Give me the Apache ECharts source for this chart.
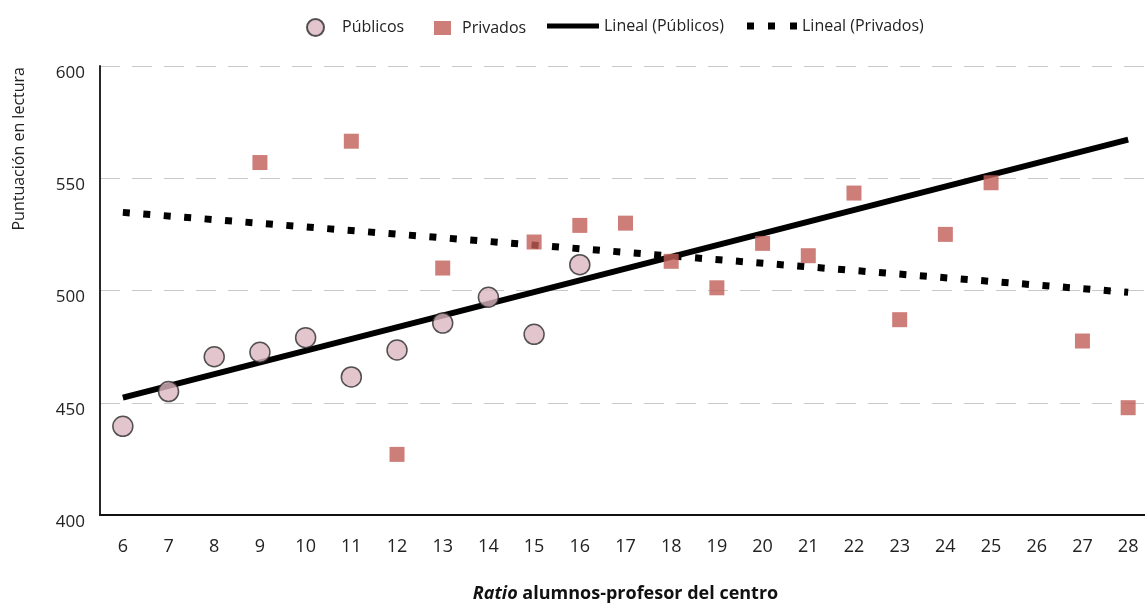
<!DOCTYPE html>
<html><head><meta charset="utf-8">
<script src="https://cdn.jsdelivr.net/npm/echarts@6/dist/echarts.min.js"></script>
<style>html,body{margin:0;padding:0;background:#fff}#c{width:1145px;height:603px}</style>
</head><body><div id="c"></div>
<script>
const categories = ['6','7','8','9','10','11','12','13','14','15','16','17','18','19','20','21','22','23','24','25','26','27','28'];
const publicosX = ['6','7','8','9','10','11','12','13','14','15','16'];
const publicosY = [439.5, 455, 470.5, 472.5, 479, 461.5, 473.5, 485.5, 497, 480.5, 511.5];
const privadosX = ['9','11','12','13','15','16','17','18','19','20','21','22','23','24','25','27','28'];
const privadosY = [557, 566.5, 427, 510, 521.6, 529, 530, 513, 501.2, 521, 515.5, 543.4, 487, 525, 548, 477.5, 447.8];
const trendPublicosX = ['6','28'];
const trendPublicosY = [452.3, 567.2];
const trendPrivadosX = ['6','28'];
const trendPrivadosY = [534.8, 499.2];
const yTicks = {min: 400, max: 600, interval: 50};

const FONT = "'Open Sans','DejaVu Sans',sans-serif";
const zip = (xs, ys) => xs.map((x, i) => [x, ys[i]]);

const chart = echarts.init(document.getElementById('c'), null, {renderer: 'canvas'});
const legendText = {fontFamily: FONT, fontSize: 16, color: '#222'};
chart.setOption({
  animation: false,
  backgroundColor: '#fff',
  grid: {left: 100, right: -6, top: 66, bottom: 88, containLabel: false, outerBoundsMode: 'none'},
  legend: [
    {data: [{name: 'Públicos', icon: 'circle'}], left: 301, top: 13, itemWidth: 43, itemHeight: 17, textStyle: legendText},
    {data: [{name: 'Privados', icon: 'path://M0,0h17v14h-17z M23,7L23,7'}], left: 429, top: 15, itemWidth: 23, itemHeight: 14, textStyle: legendText},
    {data: [{name: 'Lineal (Públicos)', icon: 'rect'}], left: 542, top: 13, itemWidth: 52, itemHeight: 5, textStyle: legendText},
    {data: [{name: 'Lineal (Privados)', icon: 'path://M0,0h7v7h-7z M21,0h7v7h-7z M43,0h7v7h-7z'}], left: 742, top: 13, itemWidth: 50, itemHeight: 7, textStyle: legendText}
  ],
  xAxis: {
    type: 'category',
    data: categories,
    boundaryGap: true,
    axisLine: {lineStyle: {color: '#111', width: 1.8}},
    axisTick: {show: false},
    axisLabel: {fontFamily: FONT, fontSize: 18, color: '#222', margin: 23},
    name: '{i|Ratio} alumnos-profesor del centro',
    nameLocation: 'middle',
    nameGap: 70,
    nameTextStyle: {
      fontFamily: FONT, fontSize: 18, fontWeight: 'bold', color: '#111',
      rich: {i: {fontFamily: FONT, fontSize: 18, fontWeight: 'bold', fontStyle: 'italic', color: '#111'}}
    }
  },
  yAxis: {
    type: 'value',
    min: yTicks.min, max: yTicks.max, interval: yTicks.interval,
    axisLine: {show: true, lineStyle: {color: '#111', width: 1.8}},
    axisTick: {show: false},
    axisLabel: {fontFamily: FONT, fontSize: 17, color: '#222', margin: 15, verticalAlign: 'top', lineHeight: 14},
    splitLine: {show: true, lineStyle: {color: '#c8c8c8', type: [20, 12], width: 1}}
  },
  graphic: [{
    type: 'text', left: 11, top: 67, rotation: Math.PI / 2,
    style: {text: 'Puntuación en lectura', fontFamily: FONT, fontSize: 16, fill: '#222'}
  }],
  series: [
    {
      name: 'Lineal (Públicos)', type: 'line', data: zip(trendPublicosX, trendPublicosY), color: '#000',
      symbol: 'none', lineStyle: {color: '#000', width: 6, cap: 'butt'}, z: 2
    },
    {
      name: 'Lineal (Privados)', type: 'line', data: zip(trendPrivadosX, trendPrivadosY), color: '#000',
      symbol: 'none', lineStyle: {color: '#000', width: 7, type: [7, 13.5], cap: 'butt'}, z: 2
    },
    {
      name: 'Públicos', type: 'scatter', data: zip(publicosX, publicosY),
      symbol: 'circle', symbolSize: 20,
      itemStyle: {color: '#dcb8c0', borderColor: '#2a2a2a', borderWidth: 1.5}, z: 3
    },
    {
      name: 'Privados', type: 'scatter', data: zip(privadosX, privadosY),
      symbol: 'rect', symbolSize: 15,
      itemStyle: {color: '#c25e57'}, z: 3
    }
  ]
});
</script>
</body></html>
